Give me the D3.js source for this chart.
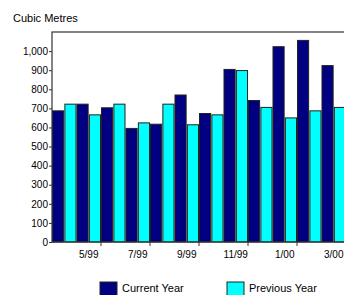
<!DOCTYPE html>
<html>
<head>
<meta charset="utf-8">
<script src="https://cdn.jsdelivr.net/npm/d3@7"></script>
<style>
  body { margin: 0; background: #fff; overflow: hidden; }
  svg { display: block; font-family: "Liberation Sans", Arial, sans-serif; }
  .axis text { font-size: 10px; fill: #000; }
</style>
</head>
<body>
<div id="chart"></div>
<script>
// months shown, every other one labelled
const months = ['4/99', '5/99', '6/99', '7/99', '8/99', '9/99', '10/99', '11/99', '12/99', '1/00', '2/00', '3/00'];
const currentYear = [687, 722, 703, 595, 617, 770, 673, 904, 741, 1023, 1056, 924];
const previousYear = [722, 666, 722, 624, 722, 614, 666, 898, 705, 650, 687, 705];
const yTicks = [0, 100, 200, 300, 400, 500, 600, 700, 800, 900, 1000];
const seriesNames = ['Current Year', 'Previous Year'];
const seriesColors = ['#000080', '#00ffff'];

const width = 344, height = 295;
const margin = {top: 32, left: 52, right: -2, bottom: 53};

const svg = d3.select('#chart').append('svg')
    .attr('width', width)
    .attr('height', height);

const innerW = width - margin.left - margin.right;
const innerH = height - margin.top - margin.bottom;

const chart = svg.append('g')
    .attr('transform', `translate(${margin.left},${margin.top})`);

// Scales
const x = d3.scaleBand().domain(months).range([0, innerW]);
const x1 = d3.scaleBand().domain(seriesNames).range([0, x.bandwidth()])
    .paddingInner(0.1).paddingOuter(0.04);
const y = d3.scaleLinear().domain([0, 1100]).range([innerH, 0]);

const data = months.map((m, i) => ({month: m, values: [currentYear[i], previousYear[i]]}));

// Bars
const groups = chart.selectAll('.month')
    .data(data)
  .join('g')
    .attr('class', 'month')
    .attr('transform', d => `translate(${x(d.month)},0)`);

groups.selectAll('rect')
    .data(d => d.values.map((v, j) => ({name: seriesNames[j], value: v, color: seriesColors[j]})))
  .join('rect')
    .attr('x', d => x1(d.name))
    .attr('y', d => y(d.value))
    .attr('width', x1.bandwidth())
    .attr('height', d => innerH - y(d.value))
    .attr('fill', d => d.color)
    .attr('stroke', '#222')
    .attr('stroke-width', 1);

// Frame
chart.append('rect')
    .attr('x', 0)
    .attr('y', 0)
    .attr('width', innerW)
    .attr('height', innerH)
    .attr('fill', 'none')
    .attr('stroke', '#333')
    .attr('stroke-width', 1.2);

// Y axis
const yAxis = d3.axisLeft(y)
    .tickValues(yTicks)
    .tickSize(3)
    .tickPadding(1)
    .tickFormat(d3.format(','));

chart.append('g')
    .attr('class', 'axis y-axis')
    .call(yAxis)
    .call(g => g.select('.domain').remove())
    .call(g => g.selectAll('line').attr('stroke', '#333'));

// X axis: labels centred on every other month, ticks on the boundary after them
const labelled = months.filter((m, i) => i % 2 === 1);

const xAxisG = chart.append('g')
    .attr('class', 'axis x-axis')
    .attr('transform', `translate(0,${innerH})`);

xAxisG.selectAll('line')
    .data(labelled)
  .join('line')
    .attr('x1', d => x(d) + x.bandwidth())
    .attr('x2', d => x(d) + x.bandwidth())
    .attr('y1', 0)
    .attr('y2', 4)
    .attr('stroke', '#333');

xAxisG.selectAll('text')
    .data(labelled)
  .join('text')
    .attr('x', d => x(d) + x.bandwidth() / 2)
    .attr('y', 16)
    .attr('text-anchor', 'middle')
    .text(d => d);

// Title
svg.append('text')
    .attr('x', 13)
    .attr('y', 22)
    .style('font-size', '11px')
    .text('Cubic Metres');

// Legend
const legendX = [100, 227];
const legend = svg.selectAll('.legend')
    .data(seriesNames)
  .join('g')
    .attr('class', 'legend')
    .attr('transform', (d, i) => `translate(${legendX[i]},282)`);

legend.append('rect')
    .attr('width', 17)
    .attr('height', 14)
    .attr('fill', (d, i) => seriesColors[i])
    .attr('stroke', '#222');

legend.append('text')
    .attr('x', 22)
    .attr('y', 10)
    .style('font-size', '11px')
    .text(d => d);
</script>
</body>
</html>
